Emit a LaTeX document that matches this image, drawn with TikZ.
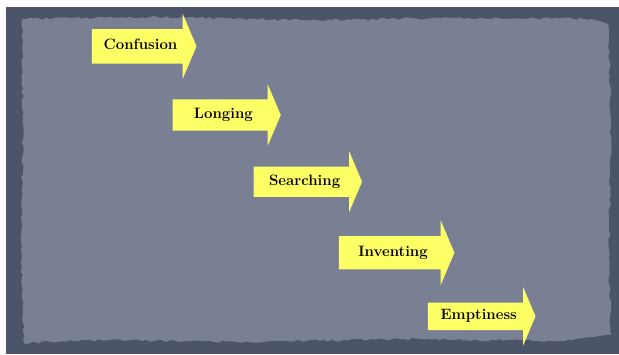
\documentclass[tikz,border=0pt]{standalone}
\usepackage{xcolor}
\usepackage{tikz}
\usetikzlibrary{shapes.arrows,decorations.pathmorphing}

\definecolor{framedark}{HTML}{4B5468}
\definecolor{paperblue}{HTML}{7A8094}
\definecolor{arrowyellow}{HTML}{FFFF66}

\begin{document}
\begin{tikzpicture}[x=1pt, y=-1pt,
  stagearrow/.style={single arrow, fill=arrowyellow, draw=none, anchor=tail,
    single arrow head extend=15.5pt, single arrow tip angle=134,
    inner xsep=0pt, inner ysep=9pt, text height=10pt, text depth=3pt,
    align=center, font=\fontsize{15}{17}\selectfont\bfseries}]
  \useasboundingbox (0,0) rectangle (619,354);
  % Frame and paper
  \fill[framedark] (6,7) rectangle (619,354);
  \fill[paperblue, decorate, decoration={random steps, segment length=4pt, amplitude=1.2pt}]
    (22,19) -- (150,17) -- (300,20) -- (480,18) -- (590,19) -- (608,24)
    -- (611,120) -- (609,250) -- (611,335) -- (560,341) -- (400,339)
    -- (250,342) -- (90,340) -- (24,343) -- (21,250) -- (23,120) -- cycle;
  % Stages
  \node[stagearrow, text width=97pt, inner ysep=10.5pt] (confusion) at (91.6,46.3) {Confusion};
  \node[stagearrow, text width=101pt] (longing) at (172.5,115) {Longing};
  \node[stagearrow, text width=101.5pt, inner ysep=8.5pt] (searching) at (253.5,181.7) {Searching};
  \node[stagearrow, text width=108pt, inner ysep=10pt] (inventing) at (338.7,252.7) {Inventing};
  \node[stagearrow, text width=101.5pt, inner ysep=7pt] (emptiness) at (427.6,316.3) {Emptiness};
\end{tikzpicture}
\end{document}
